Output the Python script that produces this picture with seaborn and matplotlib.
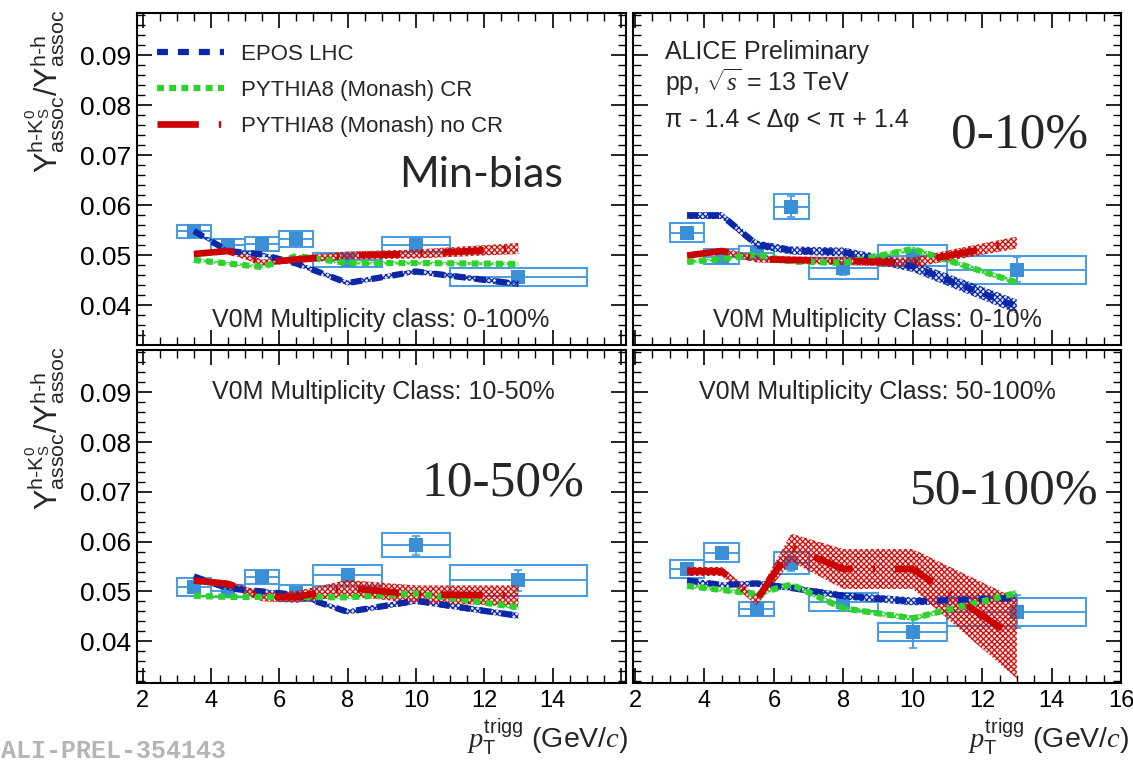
import numpy as np
import pandas as pd
import matplotlib
matplotlib.use("Agg")
import matplotlib.pyplot as plt
import seaborn as sns
from matplotlib.patches import Rectangle
from matplotlib.lines import Line2D
from matplotlib.ticker import MultipleLocator, FixedLocator, FuncFormatter

# ---------------- data ----------------
pt = np.array([3.5, 4.5, 5.5, 6.5, 8.0, 10.0, 13.0])
bin_lo = np.array([3.0, 4.0, 5.0, 6.0, 7.0, 9.0, 11.0])
bin_hi = np.array([4.0, 5.0, 6.0, 7.0, 9.0, 11.0, 15.0])
model_pt = np.array([3.5, 4.5, 5.5, 6.5, 8.0, 10.0, 13.0])

# Min-bias (0-100%)
mb_y = [0.0548, 0.0520, 0.0523, 0.0533, 0.0490, 0.0521, 0.0456]
mb_stat = [0.0005, 0.0005, 0.0006, 0.0006, 0.0007, 0.0008, 0.0008]
mb_sys = [0.0013, 0.0012, 0.0014, 0.0016, 0.0014, 0.0015, 0.0018]
mb_epos = [0.0549, 0.0509, 0.0502, 0.0484, 0.0445, 0.0468, 0.0443]
mb_epos_err = [0.0004, 0.0004, 0.0004, 0.0005, 0.0005, 0.0005, 0.0006]
mb_cr = [0.0491, 0.0484, 0.0477, 0.0499, 0.0485, 0.0485, 0.0483]
mb_cr_err = [0.0003, 0.0003, 0.0003, 0.0003, 0.0003, 0.0003, 0.0003]
mb_nocr = [0.0503, 0.0509, 0.0486, 0.0492, 0.0500, 0.0503, 0.0514]
mb_nocr_err = [0.0004, 0.0005, 0.0006, 0.0007, 0.0008, 0.0009, 0.0011]

# 0-10%
c1_y = [0.0545, 0.0497, 0.0505, 0.0597, 0.0474, 0.0499, 0.0471]
c1_stat = [0.0006, 0.0006, 0.0007, 0.0021, 0.0013, 0.0012, 0.0025]
c1_sys = [0.0019, 0.0015, 0.0013, 0.0025, 0.0021, 0.0021, 0.0028]
c1_epos = [0.0580, 0.0580, 0.0522, 0.0510, 0.0507, 0.0478, 0.0398]
c1_epos_err = [0.0007, 0.0007, 0.0008, 0.0008, 0.0009, 0.0011, 0.0014]
c1_cr = [0.0487, 0.0493, 0.0502, 0.0488, 0.0485, 0.0513, 0.0446]
c1_cr_err = [0.0003, 0.0003, 0.0003, 0.0003, 0.0004, 0.0005, 0.0005]
c1_nocr = [0.0500, 0.0509, 0.0493, 0.0491, 0.0489, 0.0486, 0.0526]
c1_nocr_err = [0.0005, 0.0006, 0.0007, 0.0007, 0.0008, 0.0010, 0.0012]

# 10-50%
c2_y = [0.0508, 0.0500, 0.0529, 0.0496, 0.0532, 0.0593, 0.0522]
c2_stat = [0.0006, 0.0006, 0.0007, 0.0008, 0.0010, 0.0019, 0.0021]
c2_sys = [0.0018, 0.0012, 0.0014, 0.0016, 0.0022, 0.0024, 0.0032]
c2_epos = [0.0530, 0.0506, 0.0500, 0.0493, 0.0459, 0.0481, 0.0451]
c2_epos_err = [0.0004, 0.0004, 0.0005, 0.0005, 0.0005, 0.0006, 0.0006]
c2_cr = [0.0491, 0.0489, 0.0489, 0.0489, 0.0488, 0.0496, 0.0468]
c2_cr_err = [0.0003, 0.0003, 0.0003, 0.0003, 0.0003, 0.0004, 0.0004]
c2_nocr = [0.0522, 0.0515, 0.0489, 0.0489, 0.0507, 0.0494, 0.0492]
c2_nocr_err = [0.0006, 0.0007, 0.0009, 0.0012, 0.0016, 0.0018, 0.0020]

# 50-100%
c3_y = [0.0545, 0.0578, 0.0464, 0.0557, 0.0478, 0.0419, 0.0459]
c3_stat = [0.0007, 0.0007, 0.0008, 0.0015, 0.0018, 0.0032, 0.0033]
c3_sys = [0.0019, 0.0019, 0.0014, 0.0023, 0.0018, 0.0018, 0.0028]
c3_epos = [0.0522, 0.0513, 0.0516, 0.0507, 0.0491, 0.0480, 0.0487]
c3_epos_err = [0.0005, 0.0005, 0.0006, 0.0006, 0.0007, 0.0008, 0.0009]
c3_cr = [0.0511, 0.0503, 0.0495, 0.0514, 0.0466, 0.0446, 0.0497]
c3_cr_err = [0.0004, 0.0004, 0.0004, 0.0004, 0.0005, 0.0005, 0.0006]
c3_nocr = [0.0540, 0.0540, 0.0482, 0.0588, 0.0545, 0.0545, 0.0405]
c3_nocr_err = [0.0009, 0.0009, 0.0010, 0.0028, 0.0040, 0.0040, 0.0080]

model_names = ["EPOS LHC", "PYTHIA8 (Monash) CR", "PYTHIA8 (Monash) no CR"]
class_labels = ["V0M Multiplicity class: 0-100%", "V0M Multiplicity Class: 0-10%",
                "V0M Multiplicity Class: 10-50%", "V0M Multiplicity Class: 50-100%"]
y_ticks = [0.04, 0.05, 0.06, 0.07, 0.08, 0.09]

# ---------------- style ----------------
sns.set_theme(style="ticks")
plt.rcParams['font.family'] = ['Liberation Sans', 'DejaVu Sans']
plt.rcParams['mathtext.fontset'] = 'custom'
plt.rcParams['mathtext.rm'] = 'Liberation Sans'
plt.rcParams['mathtext.it'] = 'Liberation Serif:italic'
plt.rcParams['mathtext.bf'] = 'Liberation Sans:bold'
plt.rcParams['hatch.linewidth'] = 0.9

DATA_COL = '#3a8fd6'
DATA_EDGE = '#4a9de0'
EPOS_COL = '#0b27a8'
CR_COL = '#2fd12f'
NOCR_COL = '#cc0000'
styles = [
    dict(color=EPOS_COL, lw=4.5, dashes=(1.75, 1.6), band='#0b27a8'),
    dict(color=CR_COL, lw=4.5, dashes=(1.1, 0.85), band='#2fd12f'),
    dict(color=NOCR_COL, lw=4.8, dashes=(6.2, 3.0, 0.35, 3.0), band='#cc1111'),
]

W, H = 1133, 761
fig = plt.figure(figsize=(W / 100, H / 100), dpi=100)
fig.patch.set_facecolor('white')


def px_axes(x0, y0, x1, y1):
    return fig.add_axes([x0 / W, 1 - y1 / H, (x1 - x0) / W, (y1 - y0) / H])


panels = [
    dict(box=(136.5, 13, 626, 345), xlim=(1.82, 16.15), ylim=(0.0321, 0.0985), left=True, bottom=False,
         d=(mb_y, mb_stat, mb_sys),
         m=[(mb_epos, mb_epos_err), (mb_cr, mb_cr_err), (mb_nocr, mb_nocr_err)]),
    dict(box=(633, 13, 1121, 345), xlim=(1.94, 16.0), ylim=(0.0321, 0.0985), left=False, bottom=False,
         d=(c1_y, c1_stat, c1_sys),
         m=[(c1_epos, c1_epos_err), (c1_cr, c1_cr_err), (c1_nocr, c1_nocr_err)]),
    dict(box=(136.5, 350, 626, 683), xlim=(1.82, 16.15), ylim=(0.0316, 0.0985), left=True, bottom=True,
         d=(c2_y, c2_stat, c2_sys),
         m=[(c2_epos, c2_epos_err), (c2_cr, c2_cr_err), (c2_nocr, c2_nocr_err)]),
    dict(box=(633, 350, 1121, 683), xlim=(1.94, 16.0), ylim=(0.0316, 0.0985), left=False, bottom=True,
         d=(c3_y, c3_stat, c3_sys),
         m=[(c3_epos, c3_epos_err), (c3_cr, c3_cr_err), (c3_nocr, c3_nocr_err)]),
]

axes = []
for i, p in enumerate(panels):
    ax = px_axes(*p['box'])
    axes.append(ax)
    ax.set_facecolor('white')
    ax.set_xlim(*p['xlim'])
    ax.set_ylim(*p['ylim'])
    ax.xaxis.set_major_locator(MultipleLocator(2))
    ax.xaxis.set_minor_locator(MultipleLocator(0.5))
    ax.yaxis.set_major_locator(FixedLocator(y_ticks))
    ax.yaxis.set_minor_locator(MultipleLocator(0.002))
    ax.tick_params(which='both', direction='in', top=True, right=True, bottom=True, left=True,
                   colors='black')
    ax.tick_params(which='major', length=11, width=1.2)
    ax.tick_params(which='minor', length=6, width=1.0)
    ax.tick_params(axis='x', pad=5, labelsize=17)
    ax.tick_params(axis='y', pad=4, labelsize=19)
    ax.yaxis.set_major_formatter(FuncFormatter(lambda v, _: f"{v:.2f}"))
    if i == 2:
        ax.xaxis.set_major_formatter(FuncFormatter(lambda v, _: '' if v > 15.5 else f"{v:g}"))
    else:
        ax.xaxis.set_major_formatter(FuncFormatter(lambda v, _: f"{v:g}"))
    ax.tick_params(labelleft=p['left'], labelbottom=p['bottom'])
    for sp in ax.spines.values():
        sp.set_visible(True)
        sp.set_linewidth(1.5)
        sp.set_color('black')
    ax.grid(False)

    dy, st, sy = (np.array(a) for a in p['d'])
    # systematic boxes
    for lo, hi, yv, s in zip(bin_lo, bin_hi, dy, sy):
        ax.add_patch(Rectangle((lo, yv - s), hi - lo, 2 * s, fill=False,
                               edgecolor=DATA_EDGE, lw=1.5, zorder=2))
    ax.errorbar(pt, dy, xerr=[pt - bin_lo, bin_hi - pt], yerr=st, fmt='none',
                ecolor=DATA_EDGE, elinewidth=1.4, capsize=3, capthick=1.2, zorder=2)
    sns.scatterplot(x=pt, y=dy, marker='s', s=105, color=DATA_COL, edgecolor=DATA_COL,
                    linewidth=0, ax=ax, zorder=3, legend=False)

    # model bands
    for (my, me), stl in zip(p['m'], styles):
        my = np.array(my); me = np.array(me)
        ax.fill_between(model_pt, my - me, my + me, facecolor=matplotlib.colors.to_rgba(stl['band'], 0.12),
                        edgecolor=stl['band'], hatch='xxxxxx', linewidth=0, zorder=4)
    # model lines
    for (my, me), stl in zip(p['m'], styles):
        df = pd.DataFrame({'pt': model_pt, 'ratio': my})
        sns.lineplot(data=df, x='pt', y='ratio', color=stl['color'], linewidth=stl['lw'],
                     ax=ax, zorder=5, errorbar=None, legend=False)
        ax.lines[-1].set_dashes(stl['dashes'])
    ax.set_xlabel('')
    ax.set_ylabel('')

# legend
handles = []
for stl in styles:
    h = Line2D([0], [0], color=stl['color'], lw=stl['lw'])
    h.set_dashes(stl['dashes'])
    handles.append(h)
axes[0].legend(handles, model_names, loc='upper left', bbox_to_anchor=(157 / W, 1 - 44 / H),
               bbox_transform=fig.transFigure, frameon=False, fontsize=16, handlelength=3.0,
               handletextpad=0.8, labelspacing=0.68, borderpad=0, borderaxespad=0)

# annotations
fig.text(481 / W, 1 - 175 / H, 'Min-bias', family='Lato', size=31, ha='center', va='center')
fig.text(1020 / W, 1 - 148 / H, '0-10%', family='Liberation Serif', size=37, ha='center', va='baseline')
fig.text(503 / W, 1 - 495 / H, '10-50%', family='Liberation Serif', size=37, ha='center', va='baseline')
fig.text(1004 / W, 1 - 503 / H, '50-100%', family='Liberation Serif', size=37, ha='center', va='baseline')

fig.text(665 / W, 1 - 59 / H, 'ALICE Preliminary', size=18, va='baseline')
fig.text(665 / W, 1 - 91 / H, r'pp, $\sqrt{s}$ = 13 TeV', size=18, va='baseline')
fig.text(665 / W, 1 - 127 / H, 'π - 1.4 < Δφ < π + 1.4', size=18, va='baseline')

centers = [(381, 320), (877, 320), (383, 392), (877, 392)]
for (cx, cy), lab in zip(centers, class_labels):
    fig.text(cx / W, 1 - cy / H, lab, size=18, ha='center', va='center')

ylab = (r'$\mathrm{Y}^{\mathrm{h}\text{-}\mathrm{K}^{0}_{\mathrm{S}}}_{\mathrm{assoc}}'
        r'/\mathrm{Y}^{\mathrm{h}\text{-}\mathrm{h}}_{\mathrm{assoc}}$')
fig.text(45 / W, 1 - 10 / H, ylab, size=22, rotation=90, ha='center', va='top')
fig.text(45 / W, 1 - 347 / H, ylab, size=22, rotation=90, ha='center', va='top')

xlab = r'$p_{\mathrm{T}}^{\mathrm{trigg}}$ (GeV/$c$)'
fig.text(628 / W, 1 - 748 / H, xlab, size=20.5, ha='right', va='baseline')
fig.text(1129 / W, 1 - 748 / H, xlab, size=20.5, ha='right', va='baseline')

fig.text(1 / W, 1 - 758 / H, 'ALI-PREL-354143', family='Liberation Mono', weight='bold',
         color='#b5b5b5', size=18, va='baseline')

fig.savefig('out.png', dpi=100, facecolor='white')
